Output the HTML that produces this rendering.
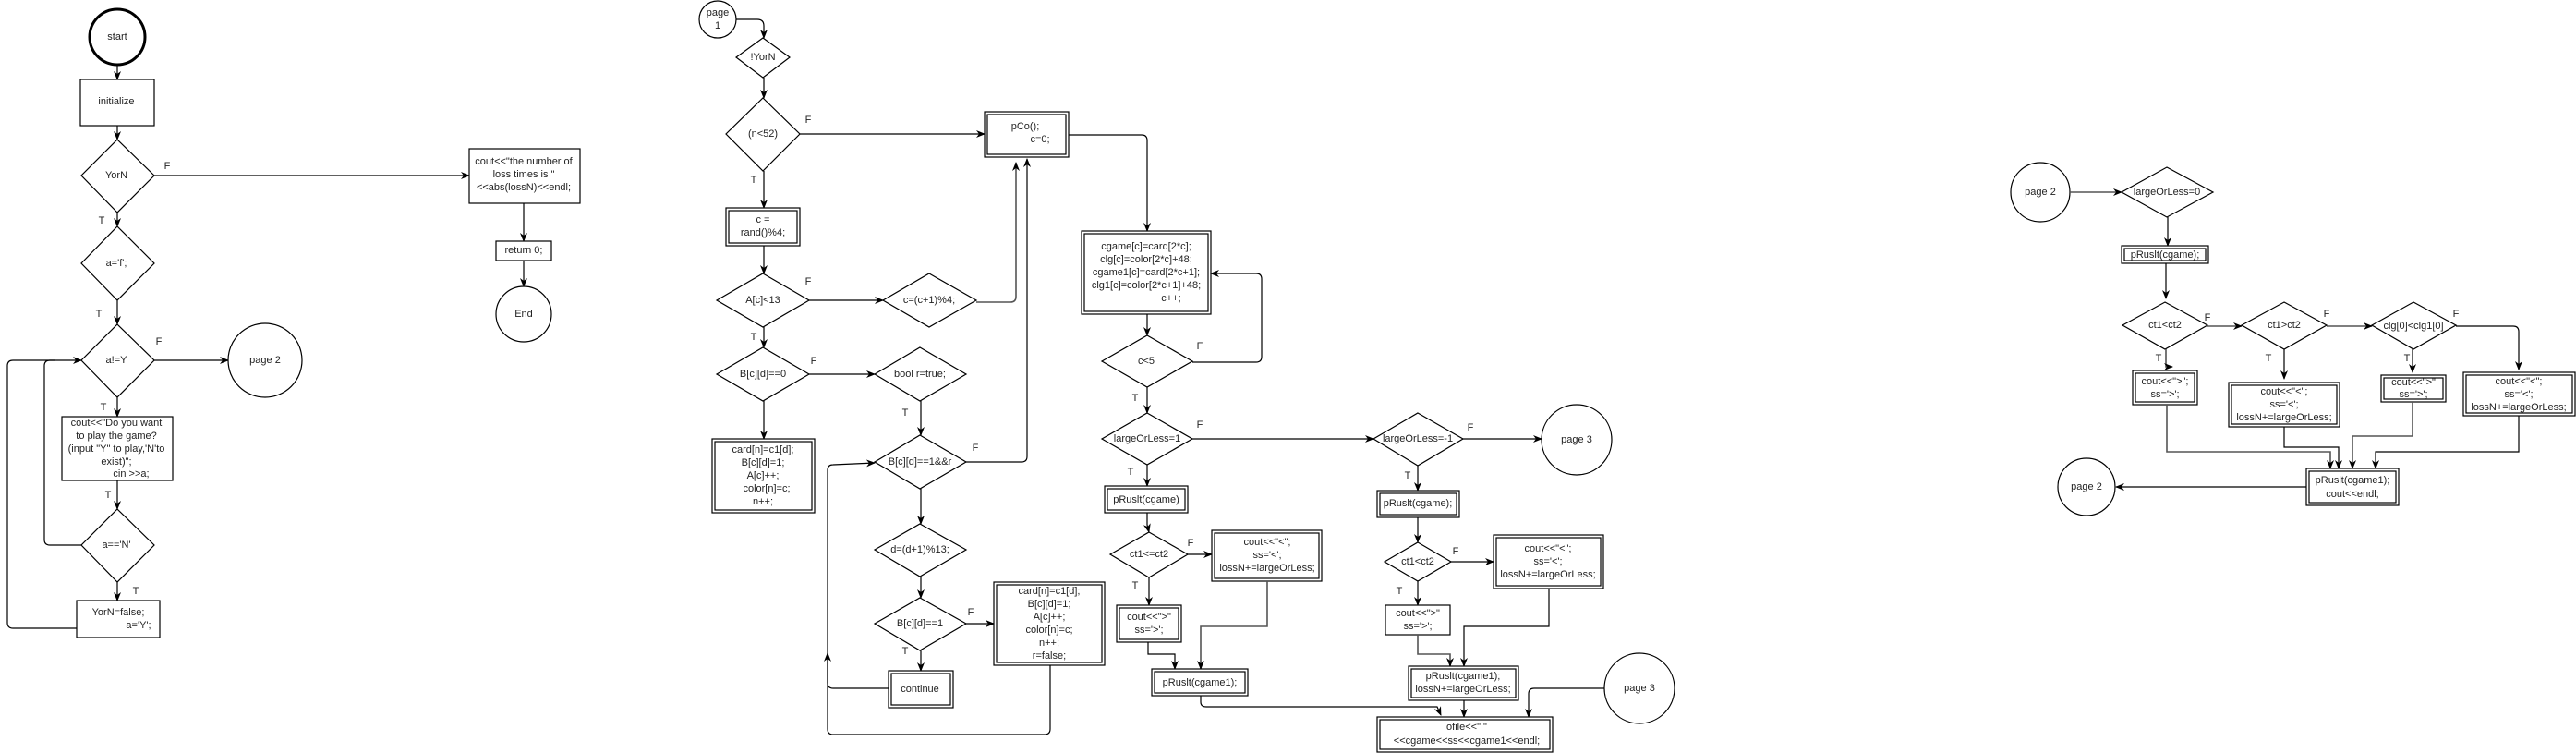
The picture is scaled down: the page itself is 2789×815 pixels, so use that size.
<!DOCTYPE html>
<html><head><meta charset="utf-8"><style>
html,body{margin:0;padding:0;background:#fff;}
svg{display:block;font-family:"Liberation Sans",Arial,sans-serif;font-size:11px;}
text{fill:#222;text-anchor:middle;dominant-baseline:middle;}
.n{fill:#fff;stroke:#000;stroke-width:1.2;}
.l{fill:none;stroke:#000;stroke-width:1.2;}
.g{fill:none;stroke:#555;stroke-width:1.6;}
</style></head><body>
<svg width="2789" height="815" viewBox="0 0 2789 815" xmlns="http://www.w3.org/2000/svg">
<defs>
<marker id="a" markerWidth="10" markerHeight="10" refX="9" refY="5" orient="auto" markerUnits="userSpaceOnUse"><path d="M0,1 L10,5 L0,9 L3,5 z" fill="#000"/></marker>
</defs>

<circle cx="127" cy="40" r="30" fill="#fff" stroke="#000" stroke-width="3"/>
<text x="127" y="40">start</text>
<path class="l" d="M127 70 L127 86" marker-end="url(#a)"/>
<rect class="n" x="87" y="86" width="80" height="50"/>
<text x="126" y="110">initialize</text>
<path class="l" d="M127 136 L127 151" marker-end="url(#a)"/>
<polygon class="n" points="127,151 167,190 127,230 88,190"/>
<text x="126" y="190">YorN</text>
<text x="181" y="180">F</text>
<path class="l" d="M167 190 L508 190" marker-end="url(#a)"/>
<rect class="n" x="508" y="161" width="120" height="59"/>
<text x="567" y="175">cout&lt;&lt;"the number of</text>
<text x="567" y="189">loss times is "</text>
<text x="567" y="203">&lt;&lt;abs(lossN)&lt;&lt;endl;</text>
<path class="l" d="M567 220 L567 261" marker-end="url(#a)"/>
<rect class="n" x="537" y="261" width="60" height="21"/>
<text x="567" y="271">return 0;</text>
<path class="l" d="M567 282 L567 310" marker-end="url(#a)"/>
<circle class="n" cx="567" cy="340" r="30"/>
<text x="567" y="340">End</text>

<text x="110" y="239">T</text>
<path class="l" d="M127 230 L127 245" marker-end="url(#a)"/>
<polygon class="n" points="127,245 167,285 127,325 88,285"/>
<text x="126" y="285">a='f';</text>
<text x="107" y="340">T</text>
<path class="l" d="M127 325 L127 351" marker-end="url(#a)"/>
<polygon class="n" points="127,351 167,390 127,430 88,390"/>
<text x="126" y="390">a!=Y</text>
<text x="172" y="370">F</text>
<path class="l" d="M167 390 L247 390" marker-end="url(#a)"/>
<circle class="n" cx="287" cy="390" r="40"/>
<text x="287" y="390">page 2</text>
<text x="112" y="441">T</text>
<path class="l" d="M127 430 L127 451" marker-end="url(#a)"/>
<rect class="n" x="67" y="451" width="120" height="69"/>
<text x="126" y="458">cout&lt;&lt;"Do you want</text>
<text x="126" y="472">to play the game?</text>
<text x="126" y="486">(input "Y" to play,'N'to</text>
<text x="126" y="500">exist)";</text>
<text x="142" y="513">cin &gt;&gt;a;</text>
<text x="117" y="536">T</text>
<path class="l" d="M127 520 L127 551" marker-end="url(#a)"/>
<polygon class="n" points="127,551 167,590 127,630 88,590"/>
<text x="126" y="590">a=='N'</text>
<text x="147" y="640">T</text>
<path class="l" d="M127 630 L127 650" marker-end="url(#a)"/>
<rect class="n" x="83" y="650" width="90" height="40"/>
<text x="128" y="663">YorN=false;</text>
<text x="150" y="677">a='Y';</text>
<path class="l" d="M88 590 L54 590 Q48 590 48 584 L48 396 Q48 390 54 390 L88 390" marker-end="url(#a)"/>
<path class="l" d="M83 680 L14 680 Q8 680 8 674 L8 396 Q8 390 14 390 L60 390"/>

<ellipse class="n" cx="777" cy="21" rx="20" ry="20"/>
<text x="777" y="14">page</text>
<text x="777" y="28">1</text>
<path class="l" d="M797 21 L820 21 Q827 21 827 28 L827 41" marker-end="url(#a)"/>
<polygon class="n" points="826,41 855,62 826,84 797,62"/>
<text x="826" y="62">!YorN</text>
<path class="l" d="M827 84 L827 106" marker-end="url(#a)"/>
<polygon class="n" points="826,106 866,145 826,185 786,145"/>
<text x="826" y="145">(n&lt;52)</text>
<text x="875" y="130">F</text>
<path class="l" d="M866 145 L1066 145" marker-end="url(#a)"/>
<rect class="n" x="1066" y="121" width="91" height="49"/>
<rect class="n" x="1069" y="124" width="85" height="43"/>
<text x="1110" y="137">pCo();</text>
<text x="1126" y="151">c=0;</text>
<text x="816" y="195">T</text>
<path class="l" d="M827 185 L827 225" marker-end="url(#a)"/>
<rect class="n" x="786" y="225" width="80" height="41"/>
<rect class="n" x="789" y="228" width="74" height="35"/>
<text x="826" y="238">c =</text>
<text x="826" y="252">rand()%4;</text>
<path class="l" d="M827 266 L827 296" marker-end="url(#a)"/>
<polygon class="n" points="826,296 876,325 826,354 776,325"/>
<text x="826" y="325">A[c]&lt;13</text>
<text x="875" y="305">F</text>
<path class="l" d="M876 325 L956 325" marker-end="url(#a)"/>
<polygon class="n" points="1006,296 1057,325 1006,354 956,325"/>
<text x="1006" y="325">c=(c+1)%4;</text>
<path class="g" d="M1057 327 L1094 327 Q1100 327 1100 321 L1100 176" marker-end="url(#a)"/>
<text x="816" y="365">T</text>
<path class="l" d="M827 354 L827 376" marker-end="url(#a)"/>
<polygon class="n" points="826,376 876,405 826,434 776,405"/>
<text x="826" y="405">B[c][d]==0</text>
<text x="881" y="391">F</text>
<path class="l" d="M876 405 L947 405" marker-end="url(#a)"/>
<polygon class="n" points="996,376 1046,405 996,434 947,405"/>
<text x="996" y="405">bool r=true;</text>
<path class="l" d="M827 434 L827 475" marker-end="url(#a)"/>
<rect class="n" x="771" y="475" width="111" height="80"/>
<rect class="n" x="774" y="478" width="105" height="74"/>
<text x="826" y="487">card[n]=c1[d];</text>
<text x="826" y="501">B[c][d]=1;</text>
<text x="826" y="515">A[c]++;</text>
<text x="830" y="529">color[n]=c;</text>
<text x="826" y="543">n++;</text>
<text x="980" y="447">T</text>
<path class="l" d="M997 434 L997 471" marker-end="url(#a)"/>
<polygon class="n" points="996,471 1046,500 996,529 947,500"/>
<text x="996" y="500">B[c][d]==1&amp;&amp;r</text>
<text x="1056" y="485">F</text>
<path class="l" d="M1046 500 L1106 500 Q1112 500 1112 494 L1112 172" marker-end="url(#a)"/>
<path class="l" d="M997 529 L997 567" marker-end="url(#a)"/>
<polygon class="n" points="996,567 1046,595 996,624 947,595"/>
<text x="996" y="595">d=(d+1)%13;</text>
<path class="l" d="M997 624 L997 647" marker-end="url(#a)"/>
<polygon class="n" points="996,647 1046,675 996,704 947,675"/>
<text x="996" y="675">B[c][d]==1</text>
<text x="1051" y="663">F</text>
<path class="l" d="M1046 675 L1076 675" marker-end="url(#a)"/>
<rect class="n" x="1076" y="630" width="120" height="90"/>
<rect class="n" x="1079" y="633" width="114" height="84"/>
<text x="1136" y="640">card[n]=c1[d];</text>
<text x="1136" y="654">B[c][d]=1;</text>
<text x="1136" y="668">A[c]++;</text>
<text x="1136" y="682">color[n]=c;</text>
<text x="1136" y="696">n++;</text>
<text x="1136" y="710">r=false;</text>
<text x="980" y="705">T</text>
<path class="l" d="M997 704 L997 726" marker-end="url(#a)"/>
<rect class="n" x="962" y="726" width="70" height="40"/>
<rect class="n" x="965" y="729" width="64" height="34"/>
<text x="996" y="746">continue</text>
<path class="l" d="M962 745 L902 745 Q896 745 896 739 L896 707" marker-end="url(#a)"/>
<path class="l" d="M1137 720 L1137 789 Q1137 795 1131 795 L902 795 Q896 795 896 789 L896 509 Q896 503 902 503 L947 501" marker-end="url(#a)"/>

<path class="l" d="M1157 146 L1236 146 Q1242 146 1242 152 L1242 250" marker-end="url(#a)"/>
<rect class="n" x="1171" y="250" width="140" height="90"/>
<rect class="n" x="1174" y="253" width="134" height="84"/>
<text x="1241" y="267">cgame[c]=card[2*c];</text>
<text x="1241" y="281">clg[c]=color[2*c]+48;</text>
<text x="1241" y="295">cgame1[c]=card[2*c+1];</text>
<text x="1241" y="309">clg1[c]=color[2*c+1]+48;</text>
<text x="1268" y="323">c++;</text>
<path class="l" d="M1242 340 L1242 363" marker-end="url(#a)"/>
<polygon class="n" points="1242,363 1291,391 1242,419 1193,391"/>
<text x="1241" y="391">c&lt;5</text>
<text x="1299" y="375">F</text>
<path class="l" d="M1291 392 L1360 392 Q1366 392 1366 386 L1366 302 Q1366 296 1360 296 L1311 296" marker-end="url(#a)"/>
<text x="1229" y="431">T</text>
<path class="l" d="M1242 419 L1242 447" marker-end="url(#a)"/>
<polygon class="n" points="1242,447 1291,475 1242,503 1193,475"/>
<text x="1242" y="475">largeOrLess=1</text>
<text x="1299" y="460">F</text>
<path class="l" d="M1291 475 L1487 475" marker-end="url(#a)"/>
<text x="1224" y="511">T</text>
<path class="l" d="M1242 503 L1242 526" marker-end="url(#a)"/>
<rect class="n" x="1196" y="526" width="90" height="29"/>
<rect class="n" x="1199" y="529" width="84" height="23"/>
<text x="1241" y="541">pRuslt(cgame)</text>
<path class="l" d="M1242 555 L1242 568 L1244 576" marker-end="url(#a)"/>
<polygon class="n" points="1244,576 1286,600 1244,625 1202,600"/>
<text x="1244" y="600">ct1&lt;=ct2</text>
<text x="1289" y="588">F</text>
<path class="l" d="M1286 600 L1312 600" marker-end="url(#a)"/>
<rect class="n" x="1312" y="574" width="119" height="55"/>
<rect class="n" x="1315" y="577" width="113" height="49"/>
<text x="1372" y="587">cout&lt;&lt;"&lt;";</text>
<text x="1372" y="601">ss='&lt;';</text>
<text x="1372" y="615">lossN+=largeOrLess;</text>
<text x="1229" y="634">T</text>
<path class="l" d="M1244 625 L1244 655" marker-end="url(#a)"/>
<rect class="n" x="1209" y="655" width="70" height="40" stroke="#666" stroke-width="3"/>
<rect class="n" x="1212" y="658" width="64" height="34"/>
<text x="1244" y="668">cout&lt;&lt;"&gt;"</text>
<text x="1244" y="682">ss='&gt;';</text>
<path class="l" d="M1243 695 L1243 708 L1272 708 L1272 724" marker-end="url(#a)"/>
<path class="g" d="M1372 629 L1372 678 L1300 678 L1300 724" marker-end="url(#a)"/>
<rect class="n" x="1247" y="724" width="104" height="29" stroke="#666" stroke-width="3"/>
<rect class="n" x="1250" y="727" width="98" height="23"/>
<text x="1299" y="739">pRuslt(cgame1);</text>
<path class="l" d="M1300 753 L1300 760 Q1300 765 1306 765 L1556 765 L1560 774" marker-end="url(#a)"/>

<polygon class="n" points="1535,447 1584,475 1535,504 1487,475"/>
<text x="1535" y="475">largeOrLess=-1</text>
<text x="1592" y="463">F</text>
<path class="l" d="M1584 475 L1669 475" marker-end="url(#a)"/>
<circle class="n" cx="1707" cy="476" r="38"/>
<text x="1707" y="476">page 3</text>
<text x="1524" y="515">T</text>
<path class="l" d="M1535 504 L1535 531" marker-end="url(#a)"/>
<rect class="n" x="1491" y="531" width="89" height="29" stroke="#666" stroke-width="3"/>
<rect class="n" x="1494" y="534" width="83" height="23"/>
<text x="1535" y="545">pRuslt(cgame);</text>
<path class="l" d="M1535 560 L1535 587" marker-end="url(#a)"/>
<polygon class="n" points="1535,587 1571,608 1535,629 1499,608"/>
<text x="1535" y="608">ct1&lt;ct2</text>
<text x="1576" y="597">F</text>
<path class="l" d="M1571 608 L1617 608" marker-end="url(#a)"/>
<rect class="n" x="1617" y="579" width="119" height="58"/>
<rect class="n" x="1620" y="582" width="113" height="52"/>
<text x="1676" y="594">cout&lt;&lt;"&lt;";</text>
<text x="1676" y="608">ss='&lt;';</text>
<text x="1676" y="622">lossN+=largeOrLess;</text>
<text x="1515" y="640">T</text>
<path class="l" d="M1535 629 L1535 655" marker-end="url(#a)"/>
<rect class="n" x="1500" y="655" width="70" height="32" stroke="#666" stroke-width="2.5"/>
<text x="1535" y="664">cout&lt;&lt;"&gt;"</text>
<text x="1535" y="678">ss='&gt;';</text>
<path class="g" d="M1535 687 L1535 708 L1570 708 L1570 721" marker-end="url(#a)"/>
<path class="l" d="M1677 637 L1677 678 L1585 678 L1585 721" marker-end="url(#a)"/>
<rect class="n" x="1525" y="721" width="119" height="37"/>
<rect class="n" x="1528" y="724" width="113" height="31"/>
<text x="1584" y="732">pRuslt(cgame1);</text>
<text x="1584" y="746">lossN+=largeOrLess;</text>
<path class="l" d="M1585 758 L1585 776" marker-end="url(#a)"/>
<circle class="n" cx="1775" cy="745" r="38"/>
<text x="1775" y="745">page 3</text>
<path class="l" d="M1737 745 L1661 745 Q1655 745 1655 751 L1655 776" marker-end="url(#a)"/>
<rect class="n" x="1491" y="776" width="190" height="38" stroke="#666" stroke-width="3"/>
<rect class="n" x="1494" y="779" width="184" height="32"/>
<text x="1588" y="787">ofile&lt;&lt;" "</text>
<text x="1588" y="802">&lt;&lt;cgame&lt;&lt;ss&lt;&lt;cgame1&lt;&lt;endl;</text>

<circle class="n" cx="2209" cy="208" r="32"/>
<text x="2209" y="208">page 2</text>
<path class="g" d="M2241 208 L2297 208" marker-end="url(#a)"/>
<polygon class="n" points="2346,181 2396,208 2346,235 2297,208"/>
<text x="2346" y="208">largeOrLess=0</text>
<path class="l" d="M2347 235 L2347 266" marker-end="url(#a)"/>
<rect class="n" x="2297" y="266" width="94" height="19" stroke="#666" stroke-width="3"/>
<rect class="n" x="2300" y="269" width="88" height="13"/>
<text x="2344" y="276">pRuslt(cgame);</text>
<path class="l" d="M2345 285 L2345 323" marker-end="url(#a)"/>
<polygon class="n" points="2344,327 2390,352 2344,378 2298,352"/>
<text x="2344" y="352">ct1&lt;ct2</text>
<text x="2390" y="344">F</text>
<path class="g" d="M2390 353 L2427 353" marker-end="url(#a)"/>
<polygon class="n" points="2473,327 2519,352 2473,378 2427,352"/>
<text x="2473" y="352">ct1&gt;ct2</text>
<text x="2519" y="340">F</text>
<path class="g" d="M2519 353 L2568 353" marker-end="url(#a)"/>
<polygon class="n" points="2613,327 2659,352 2613,378 2568,352"/>
<text x="2613" y="353">clg[0]&lt;clg1[0]</text>
<text x="2659" y="340">F</text>
<path class="l" d="M2659 353 L2721 353 Q2727 353 2727 359 L2727 400" marker-end="url(#a)"/>
<text x="2337" y="388">T</text>
<text x="2456" y="388">T</text>
<text x="2606" y="388">T</text>
<path class="g" d="M2345 378 L2345 397 L2352 397" marker-end="url(#a)"/>
<path class="l" d="M2473 378 L2473 410" marker-end="url(#a)"/>
<path class="l" d="M2612 378 L2612 403" marker-end="url(#a)"/>
<rect class="n" x="2309" y="401" width="70" height="37" stroke="#666" stroke-width="3"/>
<rect class="n" x="2312" y="404" width="64" height="31"/>
<text x="2344" y="413">cout&lt;&lt;"&gt;";</text>
<text x="2344" y="427">ss='&gt;';</text>
<rect class="n" x="2413" y="414" width="120" height="48" stroke="#666" stroke-width="3"/>
<rect class="n" x="2416" y="417" width="114" height="42"/>
<text x="2473" y="424">cout&lt;&lt;"&lt;";</text>
<text x="2473" y="438">ss='&lt;';</text>
<text x="2473" y="452">lossN+=largeOrLess;</text>
<rect class="n" x="2578" y="406" width="70" height="29" stroke="#666" stroke-width="3"/>
<rect class="n" x="2581" y="409" width="64" height="23"/>
<text x="2613" y="414">cout&lt;&lt;"&gt;"</text>
<text x="2613" y="427">ss='&gt;';</text>
<rect class="n" x="2667" y="403" width="121" height="47" stroke="#666" stroke-width="3"/>
<rect class="n" x="2670" y="406" width="115" height="41"/>
<text x="2727" y="413">cout&lt;&lt;"&lt;";</text>
<text x="2727" y="427">ss='&lt;';</text>
<text x="2727" y="441">lossN+=largeOrLess;</text>
<path class="g" d="M2346 438 L2346 489 L2523 489 L2523 507" marker-end="url(#a)"/>
<path class="l" d="M2473 462 L2473 484 L2532 484 L2532 507" marker-end="url(#a)"/>
<path class="g" d="M2612 435 L2612 472 L2547 472 L2547 507" marker-end="url(#a)"/>
<path class="l" d="M2727 450 L2727 489 L2572 489 L2572 507" marker-end="url(#a)"/>
<rect class="n" x="2497" y="507" width="100" height="40" stroke="#666" stroke-width="3"/>
<rect class="n" x="2500" y="510" width="94" height="34"/>
<text x="2547" y="520">pRuslt(cgame1);</text>
<text x="2547" y="535">cout&lt;&lt;endl;</text>
<path class="l" d="M2497 527 L2291 527" marker-end="url(#a)"/>
<circle class="n" cx="2259" cy="527" r="31"/>
<text x="2259" y="527">page 2</text>
</svg>
</body></html>
